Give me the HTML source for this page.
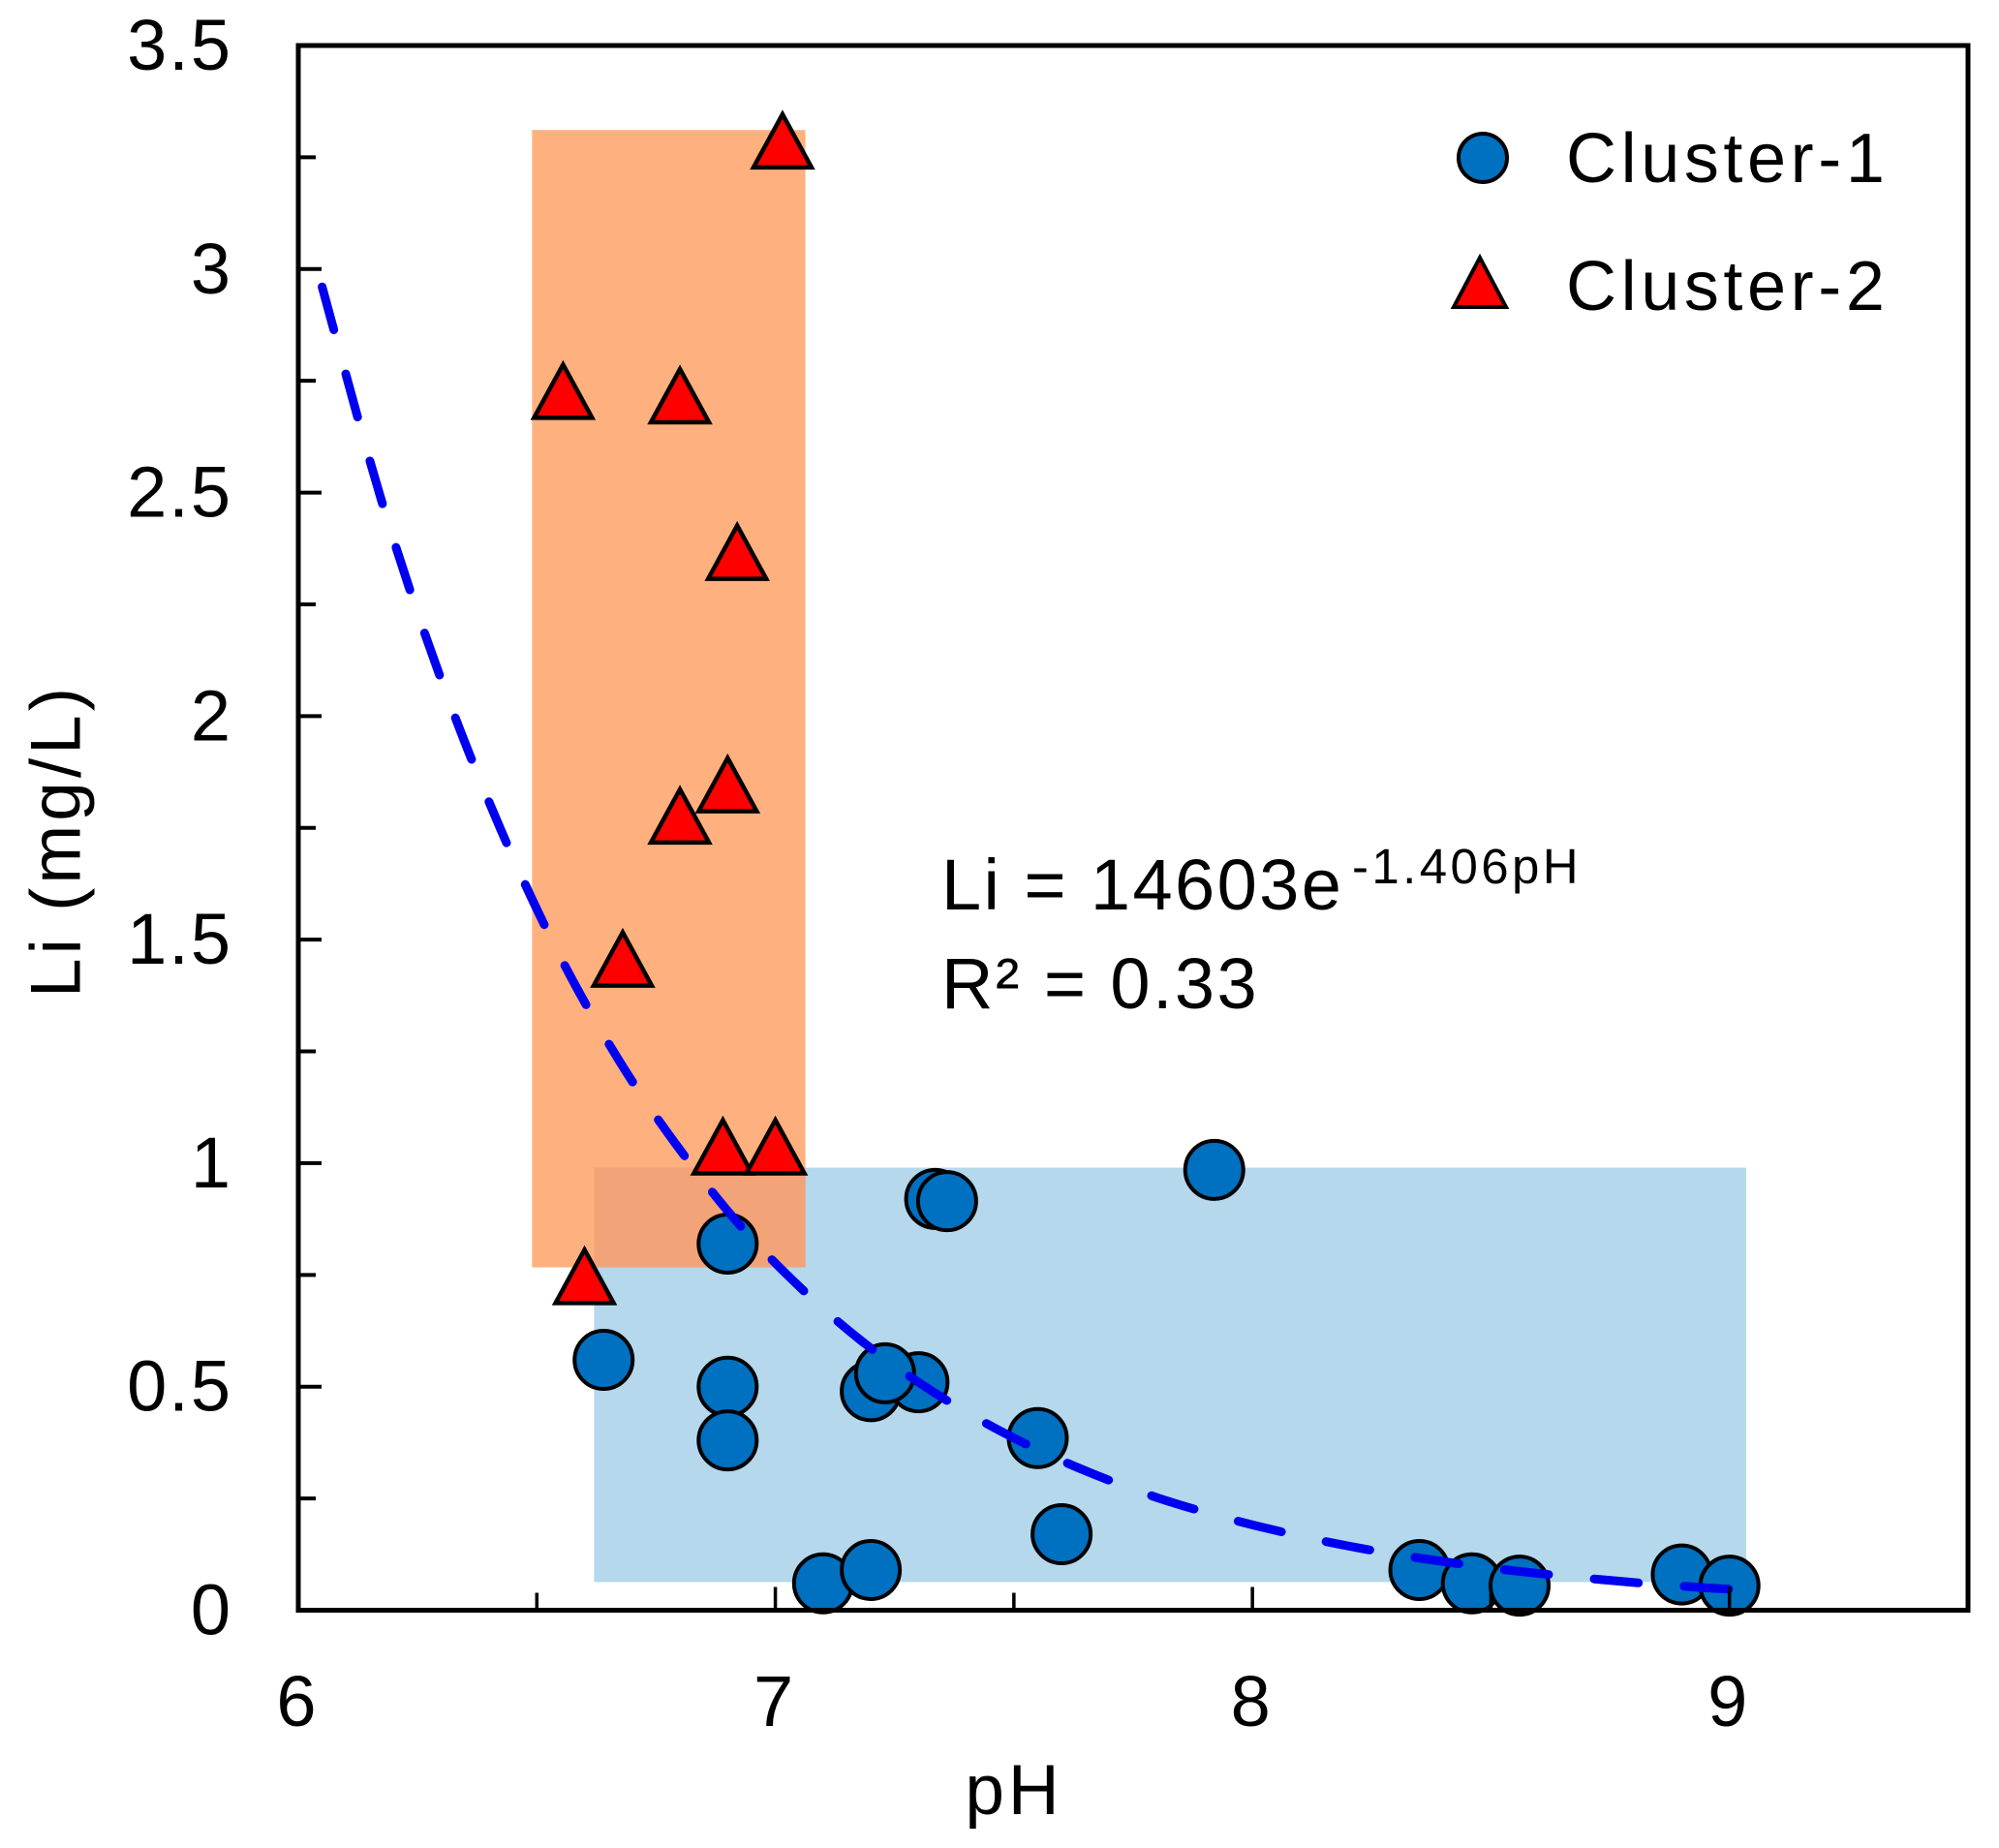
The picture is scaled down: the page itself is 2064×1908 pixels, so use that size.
<!DOCTYPE html>
<html lang="en">
<head>
<meta charset="utf-8">
<title>Li vs pH scatter chart</title>
<style>
  html, body { margin: 0; padding: 0; background: #fff; }
  #chart { display: block; width: 2064px; height: 1908px; }
  text { font-family: "Liberation Sans", Arial, sans-serif; fill: #000; }
  .tick-label { font-size: 74px; letter-spacing: 2px; }
  .axis-title { font-size: 73px; letter-spacing: 4px; }
  .legend-text { font-size: 72px; letter-spacing: 4.6px; }
  .eq { font-size: 74px; letter-spacing: 2.4px; }
  .eq-sup { font-size: 51px; letter-spacing: 3.4px; }
</style>
</head>
<body>
<svg id="chart" xmlns="http://www.w3.org/2000/svg" width="2064" height="1908" viewBox="0 0 2064 1908">
  <rect x="0" y="0" width="2064" height="1908" fill="#ffffff"/>
  <g id="regions"></g>
  <g id="cluster1"></g>
  <g id="cluster2"></g>
  <path id="trend" fill="none" stroke="#0000f0" stroke-width="9" stroke-linecap="round" stroke-dasharray="46 47.2"></path>
  <g id="axes"></g>
  <text class="axis-title" x="1047" y="1873" text-anchor="middle">pH</text>
  <text class="axis-title" x="0" y="0" transform="translate(82.5 1030) rotate(-90)">Li (mg/L)</text>
  <g>
    <circle cx="1531" cy="163" r="25" fill="#0070c0" stroke="#000" stroke-width="4"/>
    <text class="legend-text" x="1617" y="188">Cluster-1</text>
    <polygon points="1528,266 1555,317 1501,317" fill="#ff0000" stroke="#000" stroke-width="4"/>
    <text class="legend-text" x="1617" y="320">Cluster-2</text>
  </g>
  <g>
    <text class="eq" x="972" y="939">Li = 14603e</text>
    <text class="eq-sup" x="1396" y="912">-1.406pH</text>
    <text class="eq" x="972" y="1041">R² = 0.33</text>
  </g>
</svg>
<script>
var xTickValues = [6, 6.5, 7, 7.5, 8, 8.5, 9];
var xTickLabels = ["6", "", "7", "", "8", "", "9"];
var yTickValues = [0, 0.25, 0.5, 0.75, 1, 1.25, 1.5, 1.75, 2, 2.25, 2.5, 2.75, 3, 3.25, 3.5];
var yTickLabels = ["0", "", "0.5", "", "1", "", "1.5", "", "2", "", "2.5", "", "3", "", "3.5"];

var cluster1PH = [6.64, 6.90, 6.90, 6.90, 7.10, 7.20, 7.20, 7.30, 7.23, 7.335, 7.36, 7.92, 7.55, 7.60, 8.35, 8.46, 8.56, 8.90, 9.00];
var cluster1Li = [0.56, 0.82, 0.50, 0.38, 0.06, 0.09, 0.49, 0.51, 0.53, 0.92, 0.915, 0.985, 0.385, 0.17, 0.09, 0.06, 0.055, 0.08, 0.055];

var cluster2PH = [7.015, 6.555, 6.80, 6.92, 6.90, 6.80, 6.68, 6.89, 7.00, 6.60];
var cluster2Li = [3.29, 2.73, 2.72, 2.37, 1.85, 1.78, 1.46, 1.04, 1.04, 0.75];

var trendPH = [6.05, 6.175, 6.30, 6.425, 6.55, 6.675, 6.80, 6.925, 7.05, 7.175, 7.30, 7.425, 7.55, 7.675, 7.80, 7.925, 8.05, 8.175, 8.30, 8.425, 8.55, 8.675, 8.80, 8.925, 9.00];
var trendLi = [2.96, 2.48, 2.08, 1.745, 1.46, 1.225, 1.03, 0.862, 0.724, 0.607, 0.51, 0.428, 0.359, 0.301, 0.252, 0.212, 0.178, 0.149, 0.125, 0.105, 0.088, 0.074, 0.062, 0.052, 0.047];

var orangeRegionPH = [6.49, 7.063];
var orangeRegionLi = [0.767, 3.311];
var blueRegionPH = [6.62, 9.035];
var blueRegionLi = [0.063, 0.99];

var xMin = 6, xMax = 9.5, yMin = 0, yMax = 3.5;
var plotLeft = 308, plotRight = 2032, plotTop = 47, plotBottom = 1662.5;
function xScale(v) { return plotLeft + (v - xMin) / (xMax - xMin) * (plotRight - plotLeft); }
function yScale(v) { return plotBottom - (v - yMin) / (yMax - yMin) * (plotBottom - plotTop); }

var NS = "http://www.w3.org/2000/svg";
function make(tag, parent) {
  var el = document.createElementNS(NS, tag);
  parent.appendChild(el);
  return el;
}
function place(el, props) {
  for (var k in props) { el.setAttribute(k, props[k]); }
}

var regions = document.getElementById("regions");
var blueRect = make("rect", regions);


place(blueRect, { x: xScale(blueRegionPH[0]), y: yScale(blueRegionLi[1]), width: xScale(blueRegionPH[1]) - xScale(blueRegionPH[0]), height: yScale(blueRegionLi[0]) - yScale(blueRegionLi[1]), fill: "#b5d8ec" });
var orangeRect = make("rect", regions);


place(orangeRect, { x: xScale(orangeRegionPH[0]), y: yScale(orangeRegionLi[1]), width: xScale(orangeRegionPH[1]) - xScale(orangeRegionPH[0]), height: yScale(orangeRegionLi[0]) - yScale(orangeRegionLi[1]), fill: "#ffb07f" });
var overlapRect = make("rect", regions);


var ovX0 = Math.max(orangeRegionPH[0], blueRegionPH[0]), ovX1 = Math.min(orangeRegionPH[1], blueRegionPH[1]);
var ovY0 = Math.max(orangeRegionLi[0], blueRegionLi[0]), ovY1 = Math.min(orangeRegionLi[1], blueRegionLi[1]);
place(overlapRect, { x: xScale(ovX0), y: yScale(ovY1), width: xScale(ovX1) - xScale(ovX0), height: yScale(ovY0) - yScale(ovY1), fill: "#f2a377" });

var cluster1 = document.getElementById("cluster1");
cluster1PH.forEach(function (ph, i) {
  var c = make("circle", cluster1);
  
  
  place(c, { cx: xScale(ph), cy: yScale(cluster1Li[i]), r: 30, fill: "#0070c0", stroke: "#000", "stroke-width": 4 });
});

var cluster2 = document.getElementById("cluster2");
cluster2PH.forEach(function (ph, i) {
  var cx = xScale(ph), cy = yScale(cluster2Li[i]);
  var p = make("polygon", cluster2);
  
  
  place(p, { points: cx + "," + (cy - 26) + " " + (cx + 30) + "," + (cy + 29) + " " + (cx - 30) + "," + (cy + 29), fill: "#ff0000", stroke: "#000", "stroke-width": 4.5 });
});

var trendX = trendPH.map(xScale);
var trendY = trendLi.map(yScale);
var trendD = "M" + trendX[0].toFixed(1) + " " + trendY[0].toFixed(1);
for (var s = 0; s < trendX.length - 1; s++) {
  var a = Math.max(s - 1, 0), d = Math.min(s + 2, trendX.length - 1);
  var c1x = trendX[s] + (trendX[s + 1] - trendX[a]) / 6;
  var c1y = trendY[s] + (trendY[s + 1] - trendY[a]) / 6;
  var c2x = trendX[s + 1] - (trendX[d] - trendX[s]) / 6;
  var c2y = trendY[s + 1] - (trendY[d] - trendY[s]) / 6;
  trendD += " C" + c1x.toFixed(1) + " " + c1y.toFixed(1) + " " + c2x.toFixed(1) + " " + c2y.toFixed(1) + " " + trendX[s + 1].toFixed(1) + " " + trendY[s + 1].toFixed(1);
}
document.getElementById("trend").setAttribute("d", trendD);

var axes = document.getElementById("axes");
var xAxisLine = make("line", axes);


place(xAxisLine, { x1: plotLeft - 2.5, x2: plotRight + 2.5, y1: plotBottom, y2: plotBottom, stroke: "#000", "stroke-width": 5 });
var yAxisLine = make("line", axes);


place(yAxisLine, { x1: plotLeft, x2: plotLeft, y1: plotTop - 2.5, y2: plotBottom + 2.5, stroke: "#000", "stroke-width": 5 });
var topBorder = make("line", axes);


place(topBorder, { x1: plotLeft - 2.5, x2: plotRight + 2.5, y1: plotTop, y2: plotTop, stroke: "#000", "stroke-width": 5 });
var rightBorder = make("line", axes);


place(rightBorder, { x1: plotRight, x2: plotRight, y1: plotTop - 2.5, y2: plotBottom + 2.5, stroke: "#000", "stroke-width": 5 });

xTickValues.forEach(function (v, i) {
  var major = xTickLabels[i] !== "";
  var t = make("line", axes);
  
  
  place(t, { x1: xScale(v), x2: xScale(v), y1: plotBottom, y2: plotBottom - (major ? 24 : 18), stroke: "#000", "stroke-width": 3.5 });
  if (major) {
    var l = make("text", axes);
    
    
    place(l, { x: xScale(v) - 1, y: 1782, "text-anchor": "middle", "class": "tick-label" });
    l.textContent = xTickLabels[i];
  }
});

yTickValues.forEach(function (v, i) {
  var major = yTickLabels[i] !== "";
  var t = make("line", axes);
  
  
  place(t, { x1: plotLeft, x2: plotLeft + (major ? 24 : 18), y1: yScale(v), y2: yScale(v), stroke: "#000", "stroke-width": 4 });
  if (major) {
    var l = make("text", axes);
    
    
    place(l, { x: 240, y: yScale(v) + 25, "text-anchor": "end", "class": "tick-label" });
    l.textContent = yTickLabels[i];
  }
});
</script>
</body>
</html>
